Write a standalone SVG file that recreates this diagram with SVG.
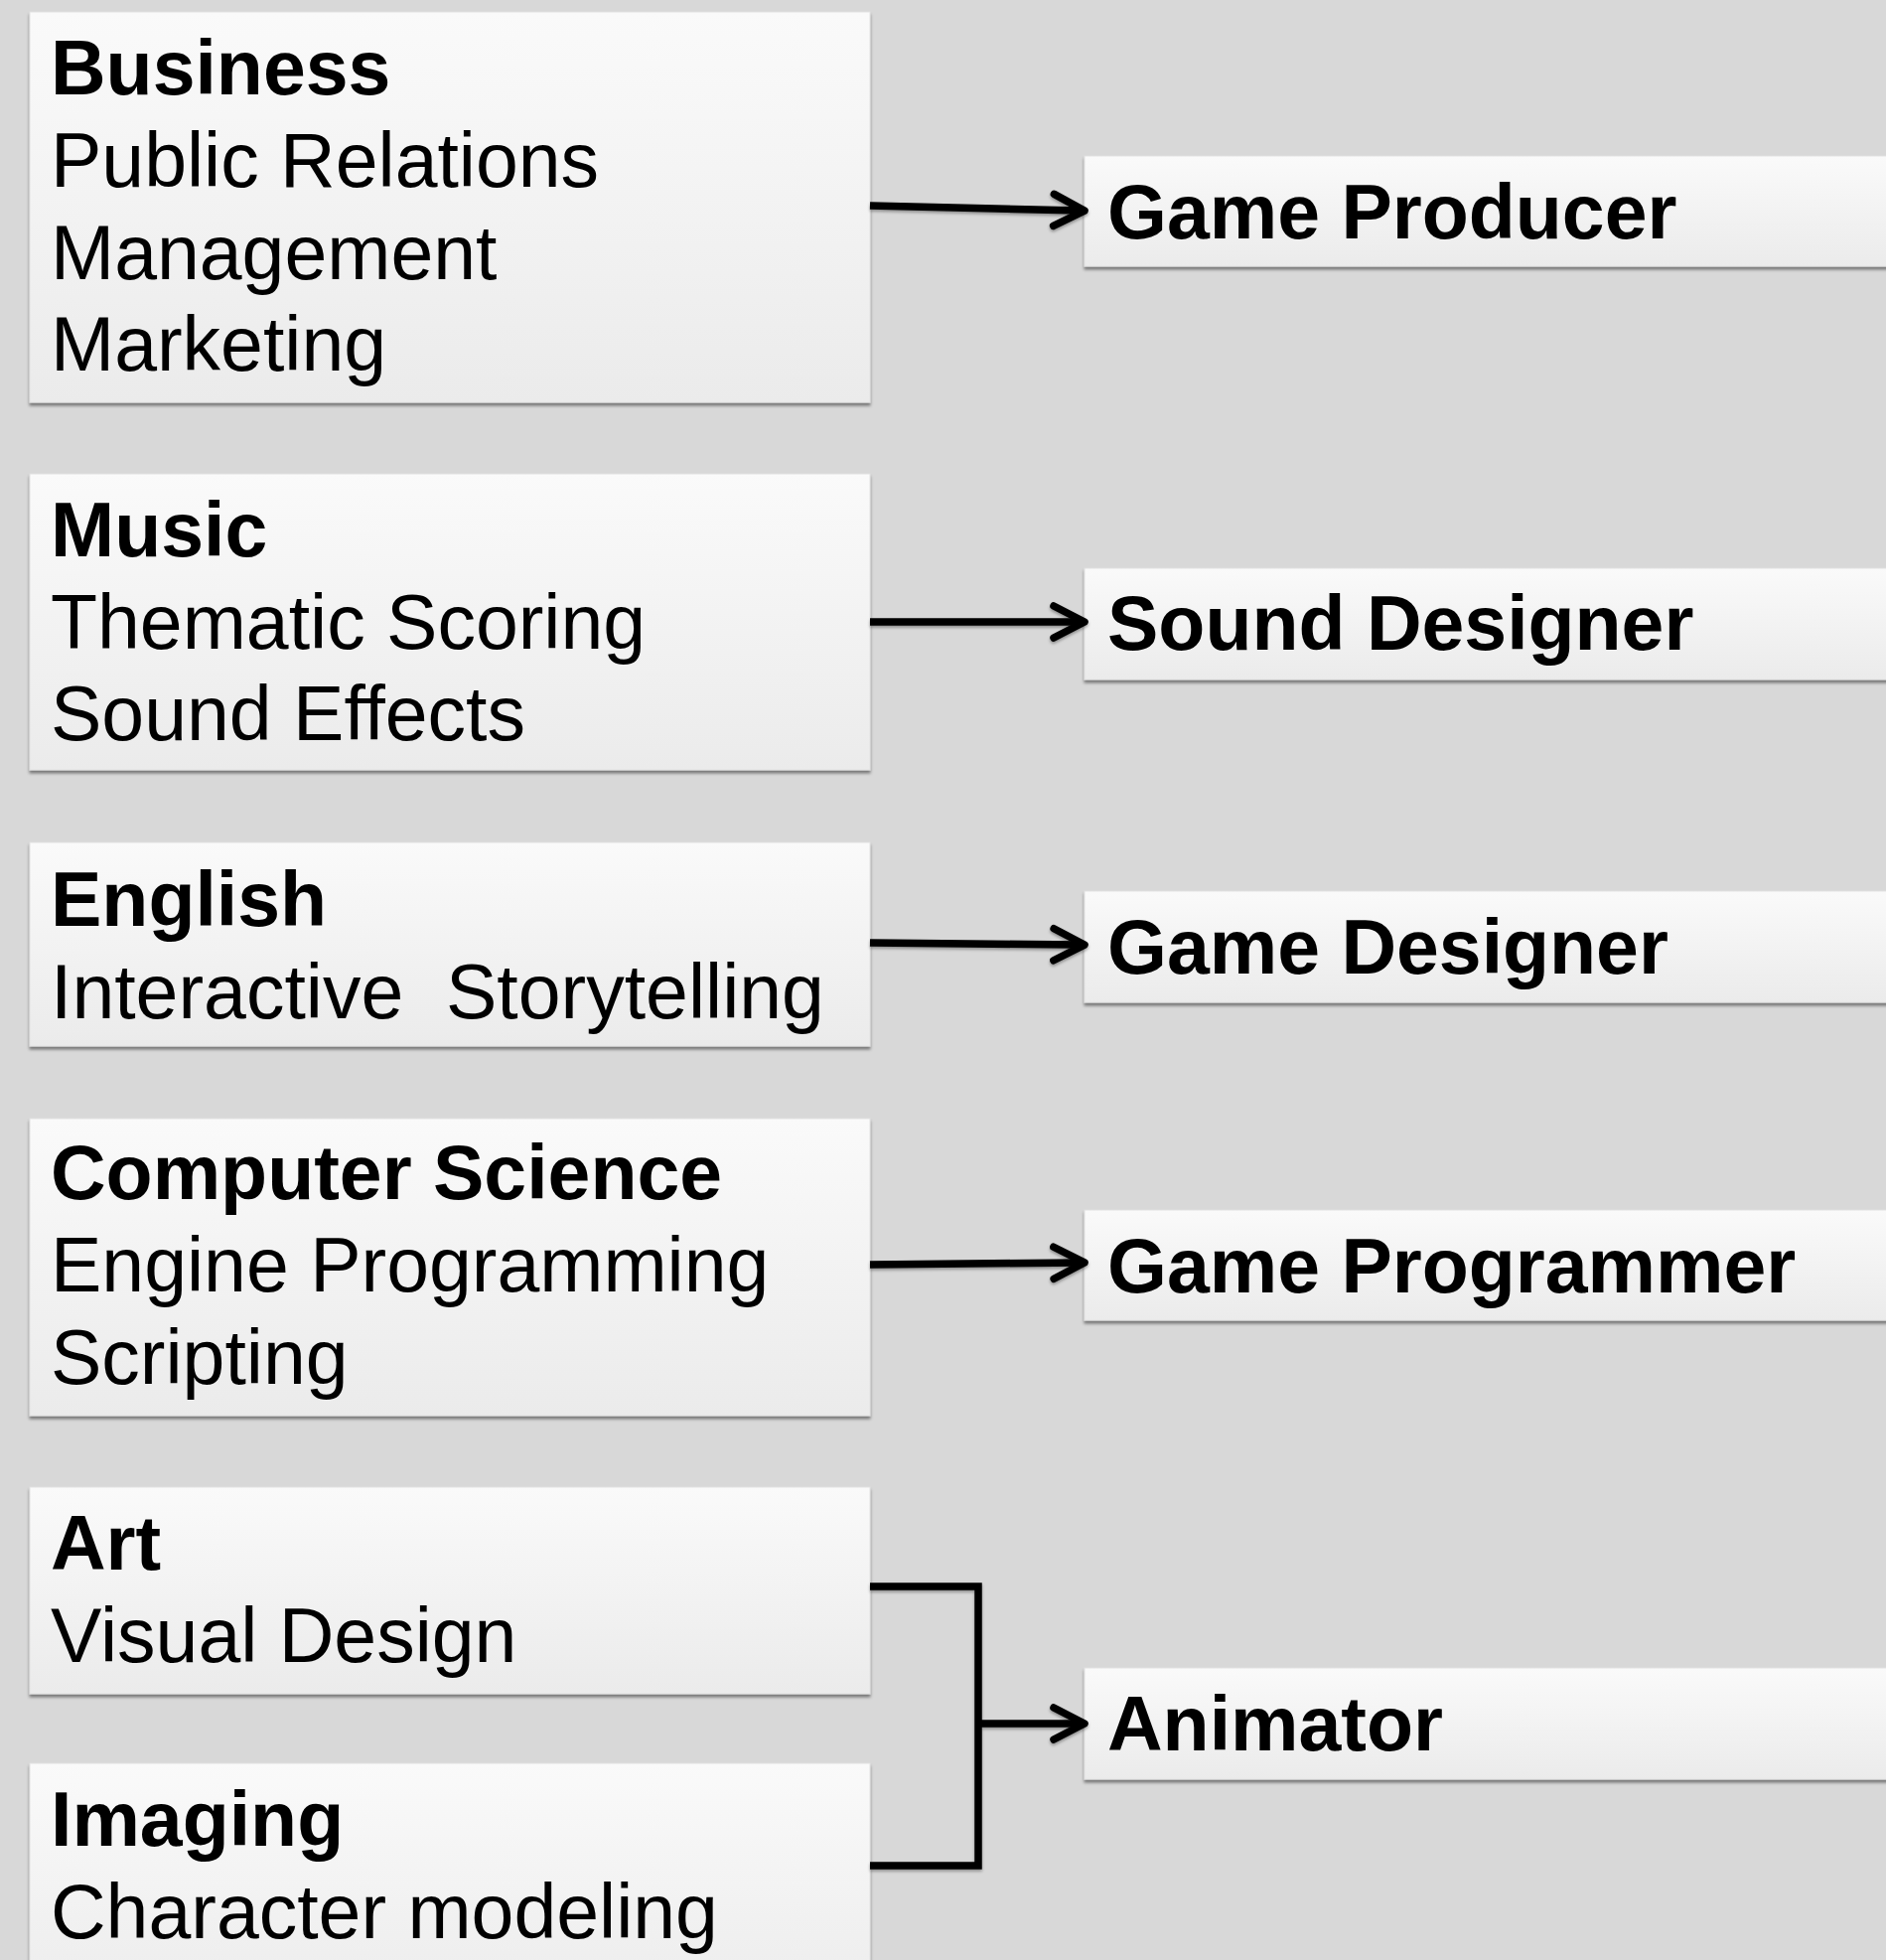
<svg xmlns="http://www.w3.org/2000/svg" width="1899" height="1973" viewBox="0 0 1899 1973">
<style>
.box{fill:url(#g);stroke:#e2e2e2;stroke-width:1}
.t{font-family:"Liberation Sans",Arial,sans-serif;font-size:77px;fill:#000}
.b{font-weight:bold}
.c{fill:none;stroke:#000;stroke-width:7.5;stroke-linejoin:miter}
</style>
<defs>
<linearGradient id="g" x1="0" y1="0" x2="0" y2="1">
<stop offset="0" stop-color="#fafafa"/>
<stop offset="1" stop-color="#ebebeb"/>
</linearGradient>
<filter id="sh" x="-5%" y="-5%" width="110%" height="115%">
<feDropShadow dx="0" dy="3" stdDeviation="1.5" flood-color="#000" flood-opacity="0.45"/>
</filter>
<filter id="csh" x="-10%" y="-10%" width="120%" height="120%">
<feDropShadow dx="0" dy="2" stdDeviation="1.5" flood-color="#000" flood-opacity="0.35"/>
</filter>
<marker id="ah" markerUnits="userSpaceOnUse" markerWidth="50" markerHeight="50" viewBox="-40 -25 50 50" refX="-4" refY="0" orient="auto">
<path d="M-31,-16 L0,0 L-31,16" fill="none" stroke="#000" stroke-width="7.5" stroke-linecap="round" stroke-linejoin="round"/>
</marker>
</defs>
<rect width="1899" height="1973" fill="#d8d8d8"/>

<g id="business" filter="url(#sh)">
<rect class="box" x="30" y="12" width="846" height="393"/>
<text class="t b" x="51" y="95">Business</text>
<text class="t" x="51" y="188">Public Relations</text>
<text class="t" x="51" y="281">Management</text>
<text class="t" x="51" y="373">Marketing</text>
</g>
<g id="music" filter="url(#sh)">
<rect class="box" x="30" y="477" width="846" height="298"/>
<text class="t b" x="51" y="560">Music</text>
<text class="t" x="51" y="653">Thematic Scoring</text>
<text class="t" x="51" y="745">Sound Effects</text>
</g>
<g id="english" filter="url(#sh)">
<rect class="box" x="30" y="848" width="846" height="205"/>
<text class="t b" x="51" y="932">English</text>
<text class="t" x="51" y="1025" xml:space="preserve">Interactive  Storytelling</text>
</g>
<g id="computer-science" filter="url(#sh)">
<rect class="box" x="30" y="1126" width="846" height="299"/>
<text class="t b" x="51" y="1207">Computer Science</text>
<text class="t" x="51" y="1300">Engine Programming</text>
<text class="t" x="51" y="1393">Scripting</text>
</g>
<g id="art" filter="url(#sh)">
<rect class="box" x="30" y="1497" width="846" height="208"/>
<text class="t b" x="51" y="1580">Art</text>
<text class="t" x="51" y="1673">Visual Design</text>
</g>
<g id="imaging" filter="url(#sh)">
<rect class="box" x="30" y="1775" width="846" height="260"/>
<text class="t b" x="51" y="1858">Imaging</text>
<text class="t" x="51" y="1951">Character modeling</text>
</g>

<g id="game-producer" filter="url(#sh)">
<rect class="box" x="1092" y="157" width="830" height="111"/>
<text class="t b" x="1115" y="240">Game Producer</text>
</g>
<g id="sound-designer" filter="url(#sh)">
<rect class="box" x="1092" y="572" width="830" height="112"/>
<text class="t b" x="1115" y="654">Sound Designer</text>
</g>
<g id="game-designer" filter="url(#sh)">
<rect class="box" x="1092" y="897" width="830" height="112"/>
<text class="t b" x="1115" y="980">Game Designer</text>
</g>
<g id="game-programmer" filter="url(#sh)">
<rect class="box" x="1092" y="1218" width="830" height="111"/>
<text class="t b" x="1115" y="1301">Game Programmer</text>
</g>
<g id="animator" filter="url(#sh)">
<rect class="box" x="1092" y="1679" width="830" height="112"/>
<text class="t b" x="1115" y="1762">Animator</text>
</g>

<g id="connectors" filter="url(#csh)">
<path class="c" d="M876,207 L1088,212" marker-end="url(#ah)"/>
<path class="c" d="M876,626 L1088,626" marker-end="url(#ah)"/>
<path class="c" d="M876,949 L1088,951" marker-end="url(#ah)"/>
<path class="c" d="M876,1273 L1088,1271" marker-end="url(#ah)"/>
<path class="c" d="M876,1597 H985 V1878 H876"/>
<path class="c" d="M985,1735 H1088" marker-end="url(#ah)"/>
</g>
</svg>
